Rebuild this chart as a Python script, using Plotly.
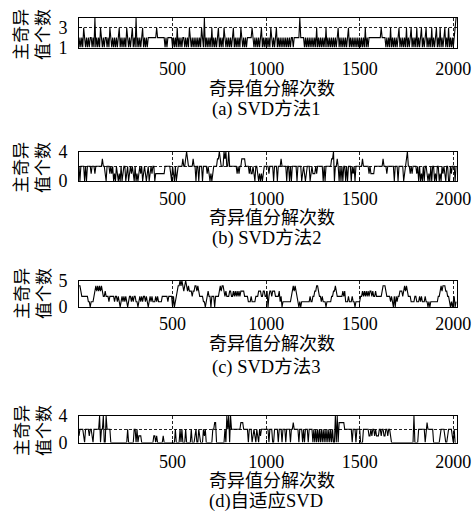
import plotly.graph_objects as go

# Count of principal singular values per SVD run.  Each string is one block of
# 100 decompositions, sampled every STEP runs (one digit per sample).
STEP = 5
BLOCK = 100

svd1_counts = [
    "12121321212122121412", "12132121221213212121", "21231212121321212312",
    "14121212312121222222", "22232222222212122222", "12121312121221212132",
    "12121212121321412121", "21312121231212132121", "21212312121213212121",
    "22222321212121231212", "12121321212312121212", "12121212212222224222",
    "21212121212121312121", "21213121212121212312", "12121212312121212121",
    "21212131212222222222", "22232222121213121212", "12312121213121231212",
    "13121231212312121312", "12312131212312131212", "1234",
]

svd2_counts = [
    "20222202022221222122", "22222322102221212010", "21010201220120121210",
    "20101212012101201212", "20111111111122222210", "21020122222322343222",
    "22322022022202222121", "01012222334322243422", "42222222212122333322",
    "22121121022101010122", "22212222022202223222", "22022020222220222201",
    "21012220121112122222", "20202222223340223202", "02022020222021202222",
    "22232222221211112222", "22222322212222222022", "20222220123422121222",
    "21202010202210102022", "01022010212102200212", "2202",
]

svd3_counts = [
    "44322222221101112343", "43434322322212222212", "21210121212101221212",
    "21101212122121012121", "11212111122222212222", "02012344545434543433",
    "32334434322221101232", "20222022223434432322", "23322323232323333222",
    "21112111122233322332", "23023323332222312011", "11111112343432101011",
    "11111112112233443221", "21110111112233432222", "22323111211121101111",
    "12232323232332322322", "22223444322221210202", "12233323434322211112",
    "21112121112110101111", "11112234344433221010", "1201",
]

adaptive_counts = [
    "12222102222122102222", "22402240042222000000", "00000000000020000002",
    "20201110000000000000", "11010000001000000000", "00020000202000200000",
    "20001200210002120000", "00022330000000002042", "40422222222223332222",
    "20222012102102122222", "22202220022220222022", "20222202232222202220",
    "20222022220202020202", "02020202020200404033", "33332222222202220222",
    "20002222221121221211", "12212211221221000000", "00000000000000000040",
    "00022222220232222220", "00000012222100122221", "0200",
]

captions = ["(a) SVD方法1", "(b) SVD方法2", "(c) SVD方法3", "(d)自适应SVD"]
x_tick_vals = [500, 1000, 1500, 2000]
x_title = "奇异值分解次数"
y_title = "主奇异<br>值个数"

W, H = 474, 530
SERIF = "Liberation Serif, Noto Sans CJK SC, serif"


def expand(blocks):
    xs, ys = [], []
    for b, s in enumerate(blocks):
        for j, ch in enumerate(s):
            xs.append(b * BLOCK + j * STEP)
            ys.append(int(ch))
    return xs, ys


def py(pix):
    return 1 - pix / H


# Layout of each panel: plot box top/bottom (px), y range, y ticks, label rows
panels = [
    dict(data=svd1_counts, top=18, bot=47.5, yr=[1, 4], yt=[1, 3, 4], ytt=["1", "3", ""],
         tick_y=69, title_y=89, cap_y=110, ylab=35),
    dict(data=svd2_counts, top=151.5, bot=181, yr=[0, 4], yt=[0, 2, 4], ytt=["0", "", "4"],
         tick_y=198, title_y=218.5, cap_y=238.5, ylab=168),
    dict(data=svd3_counts, top=280.5, bot=307, yr=[0, 5], yt=[0, 5], ytt=["0", "5"],
         tick_y=323.5, title_y=343.5, cap_y=367, ylab=294),
    dict(data=adaptive_counts, top=416, bot=442.5, yr=[0, 4], yt=[0, 2, 4], ytt=["0", "", "4"],
         tick_y=461.5, title_y=481, cap_y=501, ylab=431),
]

X0, X1 = 79, 457
fig = go.Figure()
annotations = []
layout = {}

for i, p in enumerate(panels):
    n = "" if i == 0 else str(i + 1)
    xs, ys = expand(p["data"])
    fig.add_trace(go.Scatter(
        x=xs, y=ys, mode="lines", xaxis="x" + n, yaxis="y" + n,
        line=dict(color="black", width=1.1), showlegend=False, hoverinfo="skip",
    ))
    common = dict(
        showline=True, mirror=True, linecolor="black", linewidth=1,
        ticks="inside", ticklen=3, tickcolor="black", tickwidth=1,
        showgrid=True, gridcolor="#222", griddash="3px,2px", gridwidth=1,
        zeroline=False, automargin=False,
        tickfont=dict(family=SERIF, size=18, color="black"),
    )
    layout["xaxis" + n] = dict(
        common, domain=[X0 / W, X1 / W], range=[0, 2020], anchor="y" + n,
        tickvals=x_tick_vals, ticktext=[str(v) for v in x_tick_vals],
        ticklabelstandoff=max(0, int(p["tick_y"] - p["bot"] - 16)),
    )
    layout["yaxis" + n] = dict(
        common, domain=[py(p["bot"]), py(p["top"])], range=p["yr"], anchor="x" + n,
        tickvals=p["yt"], ticktext=p["ytt"], ticklabelstandoff=7,
    )
    annotations.append(dict(
        text=x_title, xref="paper", yref="paper", x=272 / W, y=py(p["title_y"]),
        xanchor="center", yanchor="middle", showarrow=False,
        font=dict(family=SERIF, size=18, color="black"),
    ))
    annotations.append(dict(
        text=captions[i], xref="paper", yref="paper", x=266 / W, y=py(p["cap_y"]),
        xanchor="center", yanchor="middle", showarrow=False,
        font=dict(family=SERIF, size=18.5, color="black"),
    ))
    annotations.append(dict(
        text=y_title, xref="paper", yref="paper", x=33 / W, y=py(p["ylab"]),
        xanchor="center", yanchor="middle", showarrow=False, textangle=-90,
        font=dict(family=SERIF, size=17, color="black"),
    ))

fig.update_layout(
    width=W, height=H, margin=dict(l=0, r=0, t=0, b=0, autoexpand=False),
    paper_bgcolor="white", plot_bgcolor="white",
    annotations=annotations, **layout,
)
fig.write_html("out.html")
